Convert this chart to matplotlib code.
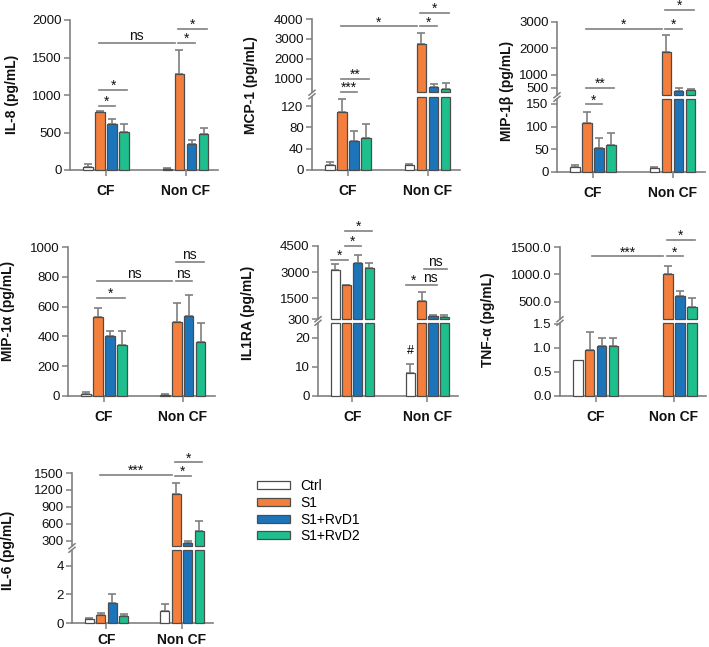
import numpy as np
import matplotlib.pyplot as plt
from matplotlib.patches import Patch
from matplotlib.lines import Line2D

plt.rcParams['font.family'] = ['Liberation Sans', 'DejaVu Sans']

groups = ['CF', 'Non CF']
series = ['Ctrl', 'S1', 'S1+RvD1', 'S1+RvD2']
colors = ['white', '#F47F3C', '#1C74BB', '#1DBF8D']

# mean / upper error, rows = CF, Non CF ; columns = series
il8_mean = [[40, 775, 615, 510], [20, 1275, 350, 480]]
il8_err = [[35, 10, 65, 100], [5, 320, 50, 80]]

mcp1_mean = [[10, 108, 55, 60], [10, 2750, 580, 450]]
mcp1_err = [[5, 25, 19, 27], [2, 560, 120, 320]]

mip1b_mean = [[10, 108, 54, 60], [8, 1850, 360, 410]]
mip1b_err = [[6, 25, 20, 27], [2, 640, 120, 40]]

mip1a_mean = [[15, 530, 400, 345], [10, 500, 540, 365]]
mip1a_err = [[13, 60, 35, 90], [3, 125, 140, 123]]

il1ra_mean = [[3100, 2230, 3500, 3250], [8, 1310, 450, 415]]
il1ra_err = [[340, 30, 480, 250], [3, 530, 100, 95]]

tnfa_mean = [[0.75, 0.96, 1.04, 1.04], [np.nan, 1010, 600, 400]]
tnfa_err = [[0, 0.38, 0.17, 0.17], [0, 150, 90, 165]]

il6_mean = [[0.28, 0.53, 1.4, 0.51], [0.86, 1130, 255, 474]]
il6_err = [[0.05, 0.15, 0.64, 0.14], [0.46, 200, 40, 175]]

W, H = 709, 647
fig = plt.figure(figsize=(W / 100, H / 100), dpi=100)

GAP = 6.6
AXC = '#808080'


def bar_x(g, p):
    return g * GAP + p


def new_ax(l, t, r, b, bottom=True, xpad=6):
    ax = fig.add_axes([l / W, 1 - b / H, (r - l) / W, (b - t) / H])
    ax.set_xlim(-1.5, 10.8)
    ax.patch.set_alpha(0)
    for s in ['top', 'right']:
        ax.spines[s].set_visible(False)
    for s in ['left', 'bottom']:
        ax.spines[s].set_color(AXC)
        ax.spines[s].set_linewidth(1.2)
    ax.tick_params(colors=AXC, labelcolor='#111111', labelsize=9.5, length=4, width=1.1, pad=2)
    if bottom:
        ax.set_xticks([bar_x(0, 1.5), bar_x(1, 1.5)])
        ax.set_xticklabels(groups, fontweight='bold', fontsize=10)
        ax.tick_params(axis='x', pad=xpad)
    else:
        ax.spines['bottom'].set_visible(False)
        ax.set_xticks([])
    return ax


def draw_bars(ax, mean, err, lo=None, hi=None):
    for g in range(2):
        for i in range(4):
            v = mean[g][i]
            e = err[g][i]
            if np.isnan(v):
                continue
            base = 0
            if lo is not None:
                if v <= lo:
                    continue
                base = lo
            top = v if hi is None else min(v, hi)
            ax.bar(bar_x(g, i), top - base, bottom=base, width=0.8, color=colors[i],
                   edgecolor='#4d4d4d', linewidth=0.9, clip_on=False, zorder=3)
            if e > 0 and (hi is None or v < hi):
                ax.errorbar(bar_x(g, i), v, yerr=[[0], [e]], fmt='none', ecolor='#7f7f7f',
                            elinewidth=1.2, capsize=3, capthick=1.2, zorder=2)


def bracket(ax, g1, p1, g2, p2, y, txt):
    x1 = bar_x(g1, p1) - 0.1
    x2 = bar_x(g2, p2) + 0.25
    ax.plot([x1, x2], [y, y], color=AXC, lw=1.2, clip_on=False, zorder=4)
    off = 2 if txt == 'ns' else 0
    ax.annotate(txt, xy=((x1 + x2) / 2, y), xytext=(0, off), textcoords='offset points',
                ha='center', va='baseline', fontsize=10, color='#111111',
                annotation_clip=False)


def break_marks(l, ub, lt):
    yc = (ub + lt) / 2
    for dy in (-1.8, 1.8):
        fig.add_artist(Line2D([(l - 3) / W, (l + 3) / W],
                              [1 - (yc + dy + 2.5) / H, 1 - (yc + dy - 2.5) / H],
                              color=AXC, lw=1.1))


def ylab(x, y, txt):
    fig.text(x / W, 1 - y / H, txt, rotation=90, ha='center', va='center',
             fontsize=10, fontweight='bold', color='#111111')


# ---------------- IL-8
ax = new_ax(70, 20, 218, 170)
ax.set_ylim(0, 2000)
ax.set_yticks([0, 500, 1000, 1500, 2000])
draw_bars(ax, il8_mean, il8_err)
bracket(ax, 0, 1, 0, 2, 857, '*')
bracket(ax, 0, 1, 0, 3, 1067, '*')
bracket(ax, 0, 1, 1, 0.35, 1690, 'ns')
bracket(ax, 1, 1, 1, 2, 1690, '*')
bracket(ax, 1, 1, 1, 3, 1880, '*')
ylab(12, 94, 'IL-8 (pg/mL)')

# ---------------- MCP-1
axu = new_ax(312, 19, 460, 92, bottom=False)
axl = new_ax(312, 97, 460, 170)
axu.set_ylim(320, 4000)
axu.set_yticks([1000, 2000, 3000, 4000])
axl.set_ylim(0, 137)
axl.set_yticks([0, 40, 80, 120])
draw_bars(axu, mcp1_mean, mcp1_err, lo=320)
draw_bars(axl, mcp1_mean, mcp1_err, hi=137)
break_marks(312, 92, 97)
bracket(axu, 0, 1, 0, 2, 330, '***')
bracket(axu, 0, 1, 0, 3, 1000, '**')
bracket(axu, 0, 1, 1, 0.35, 3630, '*')
bracket(axu, 1, 1, 1, 2, 3630, '*')
bracket(axu, 1, 1, 1, 3, 4300, '*')
ylab(251, 85, 'MCP-1 (pg/mL)')

# ---------------- MIP-1b
axu = new_ax(557, 22, 705, 95, bottom=False)
axl = new_ax(557, 99, 705, 172)
axu.set_ylim(220, 3000)
axu.set_yticks([500, 1000, 2000, 3000])
axl.set_ylim(0, 161)
axl.set_yticks([0, 50, 100, 150])
draw_bars(axu, mip1b_mean, mip1b_err, lo=220)
draw_bars(axl, mip1b_mean, mip1b_err, hi=161)
break_marks(557, 95, 99)
bracket(axl, 0, 1, 0, 2, 149, '*')
bracket(axu, 0, 1, 0, 3, 500, '**')
bracket(axu, 0, 1, 1, 0.35, 2744, '*')
bracket(axu, 1, 1, 1, 2, 2744, '*')
bracket(axu, 1, 1, 1, 3, 3450, '*')
ylab(507, 91, 'MIP-1β (pg/mL)')

# ---------------- MIP-1a
ax = new_ax(68, 247, 215, 396)
ax.set_ylim(0, 1000)
ax.set_yticks([0, 200, 400, 600, 800, 1000])
draw_bars(ax, mip1a_mean, mip1a_err)
bracket(ax, 0, 1, 0, 3, 658, '*')
bracket(ax, 0, 1, 1, 0.35, 770, 'ns')
bracket(ax, 1, 1, 1, 2, 770, 'ns')
bracket(ax, 1, 1, 1, 3, 900, 'ns')
ylab(8, 311, 'MIP-1α (pg/mL)')

# ---------------- IL1RA
axu = new_ax(318, 246, 458, 319, bottom=False)
axl = new_ax(318, 323, 458, 396)
axu.set_ylim(300, 4500)
axu.set_yticks([300, 1500, 3000, 4500])
axl.set_ylim(0, 25)
axl.set_yticks([0, 10, 20])
draw_bars(axu, il1ra_mean, il1ra_err, lo=300)
draw_bars(axl, il1ra_mean, il1ra_err, hi=25)
break_marks(318, 319, 323)
bracket(axu, 0, -0.3, 0, 0.9, 3700, '*')
bracket(axu, 0, 1, 0, 2, 4500, '*')
bracket(axu, 0, 1, 0, 3, 5360, '*')
bracket(axu, 1, -0.3, 1, 0.75, 2280, '*')
bracket(axu, 1, 1.25, 1, 2.1, 2280, 'ns')
bracket(axu, 1, 1.3, 1, 2.95, 3200, 'ns')
axl.annotate('#', xy=(bar_x(1, 0), il1ra_mean[1][0] + il1ra_err[1][0]), xytext=(0, 5),
             textcoords='offset points', ha='center', va='bottom', fontsize=9)
ylab(248, 313, 'IL1RA (pg/mL)')

# ---------------- TNF-a
axu = new_ax(560, 247, 706, 319, bottom=False)
axl = new_ax(560, 323, 706, 396)
axu.set_ylim(185, 1500)
axu.set_yticks([500, 1000, 1500])
axu.set_yticklabels(['500.0', '1000.0', '1500.0'])
axl.set_ylim(0, 1.52)
axl.set_yticks([0, 0.5, 1.0, 1.5])
axl.set_yticklabels(['0.0', '0.5', '1.0', '1.5'])
draw_bars(axu, tnfa_mean, tnfa_err, lo=185)
draw_bars(axl, tnfa_mean, tnfa_err, hi=1.52)
break_marks(560, 319, 323)
bracket(axu, 0, 1.3, 1, 0.35, 1330, '***')
bracket(axu, 1, 1, 1, 2, 1330, '*')
bracket(axu, 1, 1, 1, 3, 1633, '*')
ylab(488, 320, 'TNF-α (pg/mL)')

# ---------------- IL-6
axu = new_ax(72, 473, 213, 546, bottom=False)
axl = new_ax(72, 550, 213, 623, xpad=3.5)
axu.set_ylim(205, 1500)
axu.set_yticks([300, 600, 900, 1200, 1500])
axl.set_ylim(0, 5.1)
axl.set_yticks([0, 2, 4])
draw_bars(axu, il6_mean, il6_err, lo=205)
draw_bars(axl, il6_mean, il6_err, hi=5.1)
break_marks(72, 546, 550)
bracket(axu, 0, 1, 1, 0.35, 1470, '***')
bracket(axu, 1, 1, 1, 2, 1452, '*')
bracket(axu, 1, 1, 1, 3, 1690, '*')
ylab(8, 550, 'IL-6 (pg/mL)')

# ---------------- legend
handles = [Patch(facecolor=c, edgecolor='#4d4d4d', linewidth=0.9, label=s)
           for c, s in zip(colors, series)]
fig.legend(handles=handles, loc='upper left', bbox_to_anchor=(257 / W, 1 - 479 / H),
           frameon=False, fontsize=10, handlelength=2.4, handleheight=0.5,
           labelspacing=0.2, handletextpad=0.7, borderaxespad=0, borderpad=0)

fig.savefig('out.png', dpi=100)
